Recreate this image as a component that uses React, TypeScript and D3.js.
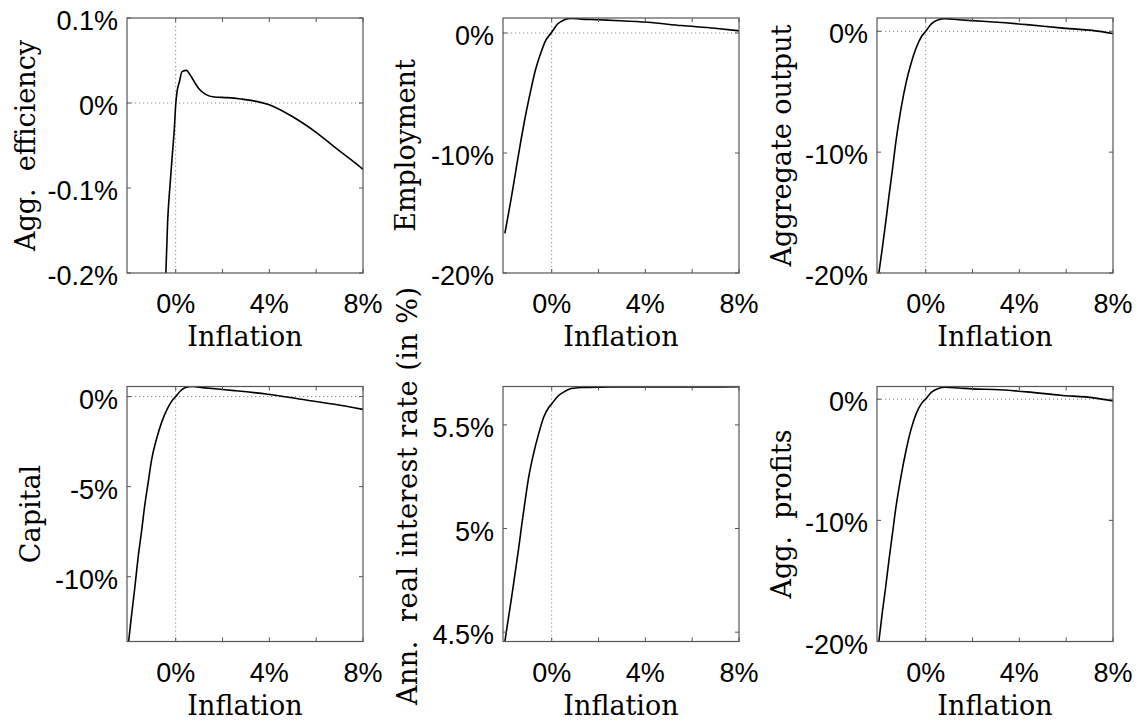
import React from "react";
import * as d3 from "d3";

// ---- Data ----
const inflationTicks = [0, 2, 4, 6, 8];
const inflationTickLabels = ["0%", "", "4%", "", "8%"];

const effX = [-0.42, -0.345, -0.23, -0.144, -0.058, 0, 0.058, 0.158, 0.273, 0.46, 0.6, 0.81, 1.0, 1.28, 1.64, 2.22, 2.79, 3.21, 3.93, 4.64, 5.36, 6.07, 6.79, 7.5, 8.0];
const effY = [-0.2, -0.14, -0.0925, -0.061, -0.03, -0.002, 0.0133, 0.025, 0.0369, 0.0384, 0.0337, 0.0243, 0.0165, 0.0102, 0.0071, 0.0063, 0.0047, 0.0031, -0.0016, -0.0106, -0.0224, -0.036, -0.052, -0.067, -0.078];
const effTicks = [0.1, 0, -0.1, -0.2];
const effTickLabels = ["0.1%", "0%", "-0.1%", "-0.2%"];

const empX = [-2.0, -1.78, -1.565, -1.35, -1.13, -0.91, -0.7, -0.48, -0.26, 0, 0.25, 0.54, 0.83, 1.26, 1.99, 2.68, 4.1, 5.54, 6.97, 8.0];
const empY = [-16.7, -14.35, -11.86, -9.36, -7.0, -4.93, -3.13, -1.75, -0.64, 0.06, 0.75, 1.1, 1.22, 1.16, 1.1, 1.04, 0.89, 0.62, 0.39, 0.18];
const empTicks = [0, -10, -20];
const empTickLabels = ["0%", "-10%", "-20%"];

const outX = [-2.0, -1.86, -1.71, -1.57, -1.42, -1.28, -1.06, -0.84, -0.62, -0.41, -0.19, 0, 0.25, 0.54, 0.83, 1.41, 1.99, 2.9, 4.32, 5.75, 7.18, 8.0];
const outY = [-20.0, -18.04, -15.84, -13.64, -11.43, -9.23, -6.47, -4.27, -2.62, -1.38, -0.47, 0, 0.63, 0.96, 1.05, 0.96, 0.88, 0.77, 0.55, 0.28, 0.055, -0.18];
const outTicks = [0, -10, -20];
const outTickLabels = ["0%", "-10%", "-20%"];

const capX = [-2.01, -1.9, -1.75, -1.61, -1.46, -1.32, -1.17, -1.03, -0.81, -0.59, -0.38, -0.16, 0, 0.2, 0.42, 0.71, 1.14, 2.01, 2.5, 3.93, 5.36, 6.79, 8.0];
const capY = [-13.6, -12.3, -10.65, -8.98, -7.5, -6.02, -4.72, -3.52, -2.31, -1.39, -0.74, -0.24, 0, 0.31, 0.5, 0.56, 0.5, 0.39, 0.33, 0.13, -0.15, -0.43, -0.71];
const capTicks = [0, -5, -10];
const capTickLabels = ["0%", "-5%", "-10%"];

const rateX = [-2.0, -1.86, -1.71, -1.57, -1.42, -1.28, -1.13, -0.99, -0.77, -0.55, -0.33, -0.12, 0, 0.25, 0.54, 0.83, 1.26, 2.0, 4.0, 6.0, 8.0];
const rateY = [4.455, 4.56, 4.67, 4.78, 4.897, 5.018, 5.138, 5.243, 5.363, 5.46, 5.54, 5.585, 5.601, 5.637, 5.66, 5.675, 5.68, 5.682, 5.683, 5.683, 5.684];
const rateTicks = [5.5, 5, 4.5];
const rateTickLabels = ["5.5%", "5%", "4.5%"];

const profX = [-2.0, -1.86, -1.71, -1.57, -1.42, -1.28, -1.06, -0.84, -0.62, -0.41, -0.19, 0, 0.25, 0.54, 0.83, 1.41, 1.99, 2.9, 4.32, 5.75, 7.18, 8.0];
const profY = [-20.0, -17.7, -15.5, -13.3, -11.1, -9.04, -6.43, -4.23, -2.45, -1.21, -0.38, 0.03, 0.58, 0.88, 0.99, 0.93, 0.85, 0.8, 0.61, 0.33, 0.11, -0.15];
const profTicks = [0, -10, -20];
const profTickLabels = ["0%", "-10%", "-20%"];

const xDomain: [number, number] = [-2.08, 8];

interface Panel {
  label: string;
  xs: number[];
  ys: number[];
  yDomain: [number, number];
  ticks: number[];
  tickLabels: string[];
  zeroLine: boolean;
  left: number;
  top: number;
  labelX: number;
  labelY?: number;
  labelLength?: number;
}

const PW = 236;
const PH = 255;

const panels: Panel[] = [
  { label: "Agg.  efficiency", xs: effX, ys: effY, yDomain: [-0.2, 0.1], ticks: effTicks, tickLabels: effTickLabels, zeroLine: true, left: 127, top: 18, labelX: 35 },
  { label: "Employment", xs: empX, ys: empY, yDomain: [-20, 1.25], ticks: empTicks, tickLabels: empTickLabels, zeroLine: true, left: 503, top: 18, labelX: 415 },
  { label: "Aggregate output", xs: outX, ys: outY, yDomain: [-20, 1.1], ticks: outTicks, tickLabels: outTickLabels, zeroLine: true, left: 877, top: 18, labelX: 791 },
  { label: "Capital", xs: capX, ys: capY, yDomain: [-13.6, 0.56], ticks: capTicks, tickLabels: capTickLabels, zeroLine: true, left: 127, top: 386.5, labelX: 40 },
  { label: "Ann.  real interest rate (in %)", xs: rateX, ys: rateY, yDomain: [4.455, 5.685], ticks: rateTicks, tickLabels: rateTickLabels, zeroLine: false, left: 503, top: 386.5, labelX: 417, labelY: 496, labelLength: 418 },
  { label: "Agg.  profits", xs: profX, ys: profY, yDomain: [-20, 1.05], ticks: profTicks, tickLabels: profTickLabels, zeroLine: true, left: 877, top: 386.5, labelX: 791 },
];

const SANS = "'Liberation Sans', Arial, Helvetica, sans-serif";
const SERIF = "'DejaVu Serif', 'Liberation Serif', serif";
const FRAME = "#555";
const DOT = "#888";

function PanelView({ p, i }: { p: Panel; i: number }) {
  const x = d3.scaleLinear().domain(xDomain).range([p.left, p.left + PW]);
  const y = d3.scaleLinear().domain(p.yDomain).range([p.top + PH, p.top]);
  const pts = p.xs.map((v, k) => [v, p.ys[k]] as [number, number]);
  const line = d3
    .line<[number, number]>()
    .x((d) => x(d[0]))
    .y((d) => y(d[1]))
    .curve(d3.curveMonotoneX);
  const bottom = p.top + PH;
  const right = p.left + PW;
  const tick = 4;
  const clipId = `clip-${i}`;
  return (
    <g>
      <defs>
        <clipPath id={clipId}>
          <rect x={p.left} y={p.top} width={PW} height={PH} />
        </clipPath>
      </defs>
      <line x1={x(0)} x2={x(0)} y1={p.top} y2={bottom} stroke={DOT} strokeWidth={1} strokeDasharray="1.2 2.8" />
      {p.zeroLine && (
        <line x1={p.left} x2={right} y1={y(0)} y2={y(0)} stroke={DOT} strokeWidth={1} strokeDasharray="1.2 2.8" />
      )}
      <path d={line(pts) || ""} fill="none" stroke="#000" strokeWidth={1.6} clipPath={`url(#${clipId})`} />
      <rect x={p.left} y={p.top} width={PW} height={PH} fill="none" stroke={FRAME} strokeWidth={1.2} />
      {inflationTicks.map((t, k) => (
        <g key={`xt${k}`}>
          <line x1={x(t)} x2={x(t)} y1={bottom} y2={bottom - tick} stroke={FRAME} strokeWidth={1} />
          <line x1={x(t)} x2={x(t)} y1={p.top} y2={p.top + tick} stroke={FRAME} strokeWidth={1} />
          {inflationTickLabels[k] && (
            <text x={x(t)} y={bottom + 40} textAnchor="middle" fontFamily={SANS} fontSize={27} fill="#000">
              {inflationTickLabels[k]}
            </text>
          )}
        </g>
      ))}
      {p.ticks.map((t, k) => (
        <g key={`yt${k}`}>
          <line x1={p.left} x2={p.left + tick} y1={y(t)} y2={y(t)} stroke={FRAME} strokeWidth={1} />
          <line x1={right} x2={right - tick} y1={y(t)} y2={y(t)} stroke={FRAME} strokeWidth={1} />
          <text x={p.left - 9} y={y(t) + 12} textAnchor="end" fontFamily={SANS} fontSize={27} fill="#000">
            {p.tickLabels[k]}
          </text>
        </g>
      ))}
      <text x={p.left + PW / 2} y={bottom + 73} textAnchor="middle" fontFamily={SERIF} fontSize={27} fill="#000">
        Inflation
      </text>
      <text
        transform={`translate(${p.labelX},${p.labelY ?? p.top + PH / 2}) rotate(-90)`}
        textAnchor="middle"
        fontFamily={SERIF}
        fontSize={27}
        fill="#000"
        style={{ whiteSpace: "pre" }}
        textLength={p.labelLength}
        lengthAdjust={p.labelLength ? "spacing" : undefined}
      >
        {p.label}
      </text>
    </g>
  );
}

export default function App() {
  return (
    <>
      <style>{`body{margin:0;background:#fff}`}</style>
      <svg width={1141} height={721} viewBox="0 0 1141 721" style={{ display: "block", background: "#fff" }}>
        {panels.map((p, i) => (
          <PanelView key={i} p={p} i={i} />
        ))}
      </svg>
    </>
  );
}
